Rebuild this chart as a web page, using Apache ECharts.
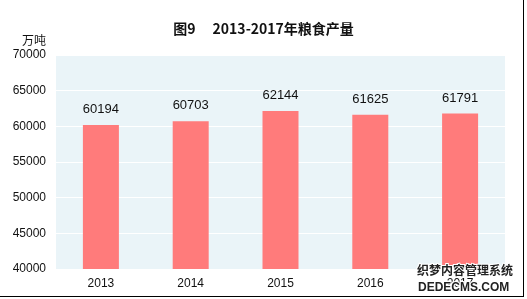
<!DOCTYPE html>
<html><head><meta charset="utf-8">
<script src="https://cdn.jsdelivr.net/npm/echarts@6/dist/echarts.min.js"></script>
<style>html,body{margin:0;padding:0;background:#fff}#c{width:527px;height:299px}</style>
</head><body><div id="c"></div>
<script>
var categories = ['2013', '2014', '2015', '2016', '2017'];
var values = [60194, 60703, 62144, 61625, 61791];
var yTicks = [40000, 45000, 50000, 55000, 60000, 65000, 70000];
var titleText = '图9\u3000 2013-2017年粮食产量';
var unitText = '万吨';

var chart = echarts.init(document.getElementById('c'), null, {renderer: 'canvas'});
var cjk = '"Noto Sans CJK SC", sans-serif';
var num = '"Liberation Sans", Arial, sans-serif';
chart.setOption({
  animation: false,
  backgroundColor: '#fff',
  title: {
    text: titleText, left: 'center', top: 17,
    textStyle: {fontSize: 14, fontWeight: 'bold', color: '#111', fontFamily: cjk}
  },
  grid: {left: 56, right: 22, top: 55, bottom: 30, show: true, backgroundColor: '#EAF4F8', borderWidth: 0},
  xAxis: {
    type: 'category', data: categories,
    axisLine: {show: false}, axisTick: {show: false},
    axisLabel: {color: '#111', fontSize: 12, margin: 9, fontFamily: num}
  },
  yAxis: {
    type: 'value', min: yTicks[0], max: yTicks[yTicks.length - 1], interval: yTicks[1] - yTicks[0],
    name: unitText, nameLocation: 'end', nameGap: 9,
    nameTextStyle: {color: '#111', fontSize: 12, align: 'right', padding: [0, 10, 0, 0], fontFamily: cjk},
    axisLine: {show: false}, axisTick: {show: false},
    axisLabel: {color: '#111', fontSize: 12, margin: 10, fontFamily: num, formatter: function (v) { return String(v); }},
    splitLine: {lineStyle: {color: '#ffffff', width: 1}}
  },
  series: [{
    type: 'bar', data: values, barWidth: 36,
    itemStyle: {color: '#FF7B7B'},
    label: {show: true, position: 'top', distance: 9, color: '#111', fontSize: 13, fontFamily: num}
  }],
  graphic: [
    {type: 'line', shape: {x1: 523.5, y1: 0, x2: 523.5, y2: 297}, style: {stroke: '#000', lineWidth: 1}},
    {type: 'line', shape: {x1: 0, y1: 296.5, x2: 524, y2: 296.5}, style: {stroke: '#000', lineWidth: 1}},
    {type: 'text', left: 416, top: 263, z: 100, style: {text: '织梦内容管理系统', fontSize: 12, fontWeight: 'bold', fill: '#222', stroke: '#fff', lineWidth: 2, fontFamily: cjk}},
    {type: 'text', left: 417, top: 281, z: 100, style: {text: 'DEDECMS.COM', fontSize: 12, fontWeight: 'bold', fill: '#222', stroke: '#fff', lineWidth: 2, fontFamily: num}}
  ]
});
</script></body></html>
